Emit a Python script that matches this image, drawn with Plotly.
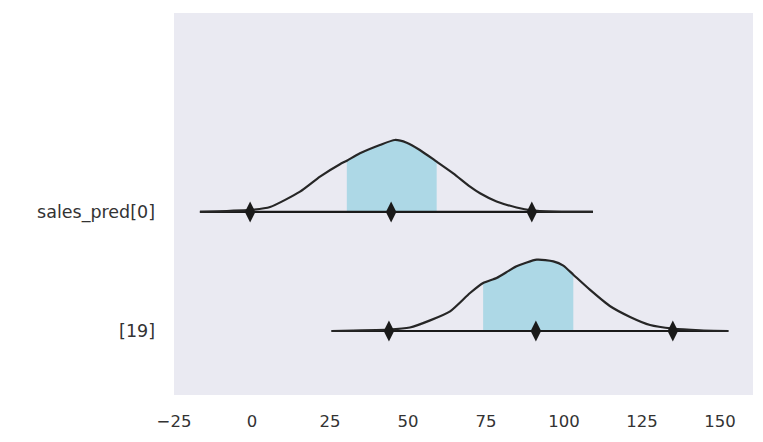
import numpy as np
import plotly.graph_objects as go

# forest / ridge plot of two predictions
labels = ["sales_pred[0]", "[19]"]
row_pos = [1, 0]

# density outline for sales_pred[0]
x0 = [-16.7, -0.6, 5.8, 15.4, 21.8, 28.2, 30.4, 34.6, 41.0, 45.8,
      49.6, 53.8, 59.2, 64.5, 69.9, 73.1, 78.4, 84.8, 89.6, 96.5, 109.3]
d0 = [0.0, 0.017, 0.042, 0.171, 0.297, 0.401, 0.431, 0.493, 0.563,
      0.605, 0.582, 0.521, 0.423, 0.325, 0.213, 0.157, 0.088, 0.038, 0.013,
      0.003, 0.0]

# density outline for [19]
x1 = [25.5, 43.7, 50.6, 57.1, 63.5, 69.9, 74.1, 78.4, 84.8, 91.3, 96.6,
      99.8, 103.0, 108.3, 114.7, 121.2, 127.6, 135.0, 143.6, 152.7]
d1 = [0.0, 0.011, 0.029, 0.089, 0.165, 0.319, 0.403, 0.445, 0.543, 0.599,
      0.585, 0.549, 0.473, 0.347, 0.210, 0.118, 0.050, 0.020, 0.006, 0.0]

# hdi bounds (shaded) and the three diamond markers per row
hdi0 = [30.4, 59.2]
hdi1 = [74.1, 103.0]
marks0 = [-0.6, 44.6, 89.7]
marks1 = [43.9, 91.0, 134.9]

rows = [(x0, d0, hdi0, marks0), (x1, d1, hdi1, marks1)]

fig = go.Figure()
for (xs, ds, hdi, marks), base in zip(rows, row_pos):
    xs = np.array(xs)
    ds = np.array(ds)
    sel = (xs >= hdi[0]) & (xs <= hdi[1])
    fx = np.concatenate([xs[sel], xs[sel][::-1]])
    fy = np.concatenate([ds[sel] + base, np.full(sel.sum(), base)])
    fig.add_trace(go.Scatter(x=fx, y=fy, fill="toself", fillcolor="#ADD8E6",
                             mode="none", hoverinfo="skip"))
    # baseline
    fig.add_trace(go.Scatter(x=[xs[0], xs[-1]], y=[base, base], mode="lines",
                             line=dict(color="#1a1a1a", width=2.2)))
    # density curve
    fig.add_trace(go.Scatter(x=xs, y=ds + base, mode="lines",
                             line=dict(color="#262626", width=2.2, shape="spline",
                                       smoothing=0.6)))
    fig.add_trace(go.Scatter(x=marks, y=[base] * len(marks), mode="markers",
                             marker=dict(symbol="diamond-tall", size=15,
                                         color="#1a1a1a")))

# page body has an 8px margin, so shift margins to line up with the window
fig.update_layout(
    width=763, height=442,
    showlegend=False,
    paper_bgcolor="white",
    plot_bgcolor="#EAEAF2",
    margin=dict(l=166, r=18, t=5, b=55),
    font=dict(family="DejaVu Sans", size=15, color="#333333"),
)
fig.update_xaxes(range=[-25, 160.6], tickvals=[-25, 0, 25, 50, 75, 100, 125, 150],
                 ticktext=["\u221225", "0", "25", "50", "75", "100", "125", "150"],
                 tickfont=dict(size=16.5),
                 showgrid=False, zeroline=False, ticklabelstandoff=14)
fig.update_yaxes(range=[-0.538, 2.672], tickvals=row_pos, ticktext=labels,
                 tickfont=dict(size=17.5),
                 showgrid=False, zeroline=False, ticklabelstandoff=18)

fig.write_html("out.html")
